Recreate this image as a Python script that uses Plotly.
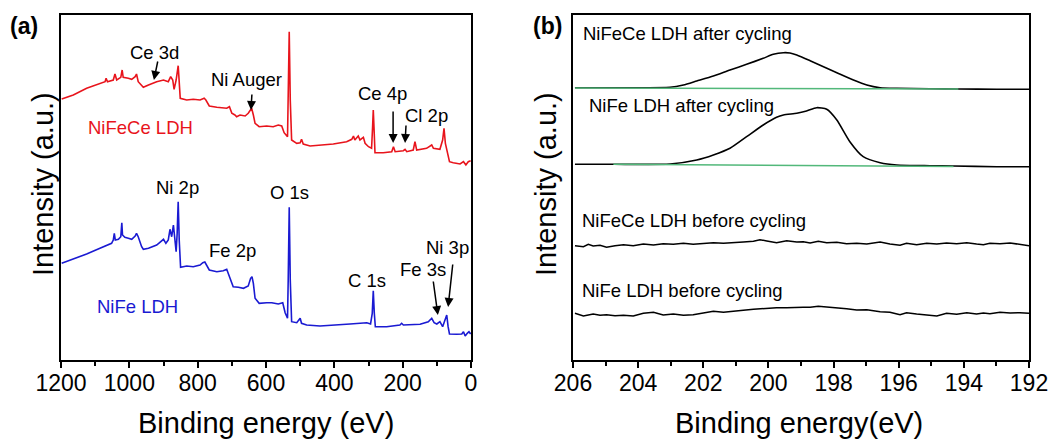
import plotly.graph_objects as go

FONT = "Liberation Sans, Arial, sans-serif"

# ---------------- Panel (a): survey spectra ----------------
e_nifece = [1198, 1164, 1125, 1086, 1071, 1068, 1064, 1047, 1042, 1037, 1025, 1021, 1018, 1003, 993, 983, 979, 974, 969, 959,
            944, 930, 920, 900, 886, 879, 873, 869, 863, 857, 854, 851, 832, 813, 793, 781, 776, 766, 744, 715,
            707, 700, 691, 686, 676, 661, 652, 642, 637, 632, 620, 598, 579, 564, 554, 547, 537, 535, 532, 529,
            525, 510, 500, 496, 491, 471, 442, 403, 364, 349, 344, 340, 330, 325, 315, 310, 300, 291, 288, 286,
            284, 281, 257, 232, 227, 222, 198, 193, 188, 169, 164, 159, 130, 115, 110, 91, 83, 79, 75, 71,
            63, 52, 32, 22, 15, 8, 1]
i_nifece = [261, 265, 271.7, 276.7, 278.3, 281.7, 278.3, 280, 286, 280, 282.7, 290, 282.7, 281.7, 280.7, 283.3, 286, 278.3, 276.7, 272.7,
            275, 277.3, 278.3, 280, 278.3, 283.3, 280, 270.7, 280, 294.3, 276.7, 261.7, 260, 260.7, 260, 261.7, 260, 254, 252.7, 251.7,
            253.3, 246.7, 245, 243.3, 245, 244, 246.7, 251.7, 245, 236.7, 233.3, 234, 233.3, 235, 234, 227.3, 223.3, 260, 328.3, 260,
            220, 216.7, 217.3, 220.7, 216, 214, 215, 216, 218.3, 220.7, 224, 220, 224, 220, 222.7, 216.7, 213.3, 211.7, 233.3, 250,
            233.3, 207.3, 207.3, 208.3, 213.3, 208.3, 209.3, 210.7, 208.3, 210, 218.3, 210, 211.7, 215, 211.7, 210.7, 220, 231.7, 216.7, 210,
            198.3, 197.3, 196, 198.3, 195, 198.3, 199.3]

e_nife = [1198, 1164, 1125, 1086, 1052, 1047, 1044, 1041, 1032, 1025, 1022, 1020, 1013, 1003, 993, 983, 979, 974, 964, 959,
          944, 920, 900, 893, 886, 881, 876, 871, 867, 863, 860, 857, 854, 850, 832, 813, 793, 785, 779, 774,
          766, 744, 725, 715, 707, 696, 681, 666, 652, 645, 641, 637, 632, 620, 598, 583, 564, 551, 544, 537,
          535, 532, 529, 525, 510, 500, 496, 481, 442, 403, 354, 305, 294, 289, 286, 283, 280, 247, 208, 203,
          198, 149, 139, 125, 115, 108, 100, 91, 83, 75, 71, 67, 63, 42, 27, 22, 17, 11, 6, 1]
i_nife = [96.7, 100.7, 106, 111.7, 116.7, 120, 126.7, 120, 120.7, 123.3, 137.3, 125, 122.7, 121.7, 120.7, 124, 126.7, 123.3, 113.3, 110.7,
          111.7, 115, 120.7, 116.7, 120, 130.7, 123.3, 135, 120, 108.3, 126.7, 158.3, 120, 92.7, 94, 93.3, 95, 97.3, 98, 95,
          90, 88.3, 89.3, 90.7, 83.3, 73.3, 72.7, 71.7, 74, 81.7, 83.3, 76.7, 61.7, 56.7, 57.3, 57.3, 56, 57.3, 47.3, 41.7,
          80, 152.7, 80, 38.3, 37.3, 41.7, 36.7, 35, 34, 34.7, 36, 37.3, 36, 46.7, 69.3, 46.7, 33.3, 33.3, 35, 36.7,
          35, 35.7, 36.7, 38.3, 41.7, 37.3, 36, 38.3, 33.3, 40, 45, 33.3, 26, 25.7, 26, 28.3, 24, 26.7, 28.3, 26]

# ---------------- Panel (b): Ce 4d region ----------------
e_after = [205.94, 204.76, 203.02, 202.61, 202.2, 201.69, 201.18, 200.67, 200.16, 199.85, 199.54, 199.34, 199.13, 198.72,
           198.31, 197.9, 197.39, 196.98, 196.57, 196.06, 195.04, 194.17, 192.99, 192.0]
i_nifece_after = [272.3, 272.3, 272.7, 275, 279, 284, 290, 295.7, 301.7, 305.7, 307.3, 307, 305, 299.3,
                  293.3, 287.3, 280, 275, 272.3, 271.7, 271.3, 271, 270.7, 270.7]
e_nife_after = [205.94, 204.76, 203.02, 202.2, 201.69, 201.18, 200.67, 200.16, 199.75, 199.54, 199.13, 198.83, 198.52,
                198.21, 197.9, 197.5, 197.09, 196.57, 196.06, 195.04, 194.32, 192.99, 192.0]
i_nife_after = [195.7, 195.7, 196, 200, 205, 211.7, 223.3, 235, 242.7, 245, 246.7, 249, 252.3,
                250.7, 240, 218.3, 203.3, 197.3, 195, 194.3, 194, 193.3, 193.3]
e_bg_nifece = [205.94, 194.17]
i_bg_nifece = [272.0, 271.0]
e_bg_nife = [204.76, 194.32]
i_bg_nife = [195.7, 193.5]

e_before = [205.94, 205.68, 205.53, 205.38, 205.17, 204.97, 204.71, 204.45, 204.15, 203.84, 203.53, 203.23, 202.92, 202.61,
            202.31, 202.0, 201.69, 201.38, 201.08, 200.77, 200.46, 200.26, 200.05, 199.75, 199.44, 199.13, 198.93, 198.72,
            198.47, 198.21, 197.9, 197.6, 197.29, 196.98, 196.57, 196.27, 195.96, 195.76, 195.45, 195.14, 194.83, 194.53,
            194.22, 193.91, 193.61, 193.4, 193.2, 192.89, 192.58, 192.28, 192.0]
i_nifece_before = [114.3, 113.3, 115.7, 114, 114.7, 112.7, 114.3, 115.3, 114.3, 116, 115, 116.3, 115.7, 116.7,
                   115.7, 116.7, 117.3, 116.7, 117.7, 118, 118.7, 120.3, 119, 117.3, 119.3, 118, 118.3, 117,
                   118.7, 117.3, 117.7, 116.3, 116.7, 116, 118, 116, 114.7, 116.7, 115.3, 116.7, 116, 117,
                   116.3, 117.3, 116, 115.3, 116.7, 116.3, 117, 115.3, 114.3]
i_nife_before = [46.7, 44, 45, 46, 44.7, 45.3, 44.3, 44.7, 44, 46.7, 47.7, 45, 46, 44.7,
                 45.3, 47, 48.7, 47.7, 49, 49.7, 50.7, 51.3, 51.7, 52.3, 52.3, 53, 52.7, 52.7,
                 53.7, 53, 52.3, 51.3, 50, 50.3, 48.3, 47.7, 45.3, 47.3, 46, 45, 44, 46.7,
                 45.7, 47.3, 46, 47, 46.3, 47.7, 47, 47.3, 46.7]

RED = "#e8141c"
BLUE = "#1a1ad2"
GREEN = "#52b87a"

fig = go.Figure()
fig.add_trace(go.Scatter(x=e_nifece, y=i_nifece, mode="lines", line=dict(color=RED, width=1.6), xaxis="x", yaxis="y"))
fig.add_trace(go.Scatter(x=e_nife, y=i_nife, mode="lines", line=dict(color=BLUE, width=1.6), xaxis="x", yaxis="y"))

fig.add_trace(go.Scatter(x=e_after, y=i_nifece_after, mode="lines", line=dict(color="black", width=1.6, shape="spline", smoothing=0.6), xaxis="x2", yaxis="y2"))
fig.add_trace(go.Scatter(x=e_bg_nifece, y=i_bg_nifece, mode="lines", line=dict(color=GREEN, width=1.6), xaxis="x2", yaxis="y2"))
fig.add_trace(go.Scatter(x=e_nife_after, y=i_nife_after, mode="lines", line=dict(color="black", width=1.6, shape="spline", smoothing=0.6), xaxis="x2", yaxis="y2"))
fig.add_trace(go.Scatter(x=e_bg_nife, y=i_bg_nife, mode="lines", line=dict(color=GREEN, width=1.6), xaxis="x2", yaxis="y2"))
fig.add_trace(go.Scatter(x=e_before, y=i_nifece_before, mode="lines", line=dict(color="black", width=1.5), xaxis="x2", yaxis="y2"))
fig.add_trace(go.Scatter(x=e_before, y=i_nife_before, mode="lines", line=dict(color="black", width=1.5), xaxis="x2", yaxis="y2"))

W, H = 1062, 441
ydom = [1 - 360 / H, 1 - 15 / H]
axis_common = dict(showline=True, linecolor="black", linewidth=2, mirror=True, showgrid=False, zeroline=False,
                   ticks="outside", ticklen=6, tickwidth=1.5, tickcolor="black", automargin=False,
                   ticklabelstandoff=-5,
                   tickfont=dict(family=FONT, size=23, color="black"))
yaxis_common = dict(domain=ydom, range=[0, 345], showticklabels=False, showline=True, linecolor="black", linewidth=2,
                    mirror=True, showgrid=False, zeroline=False, ticks="", automargin=False)
fig.update_layout(
    template="none",
    width=W, height=H, margin=dict(l=0, r=0, t=0, b=0, pad=0), autosize=False,
    paper_bgcolor="white", plot_bgcolor="white", showlegend=False,
    font=dict(family=FONT, color="black"),
    xaxis=dict(domain=[61 / W, 471 / W], range=[1200, 0], dtick=200, anchor="y",
               minor=dict(dtick=100, ticks="outside", ticklen=4, tickwidth=1.5, tickcolor="black"), **axis_common),
    yaxis=dict(anchor="x", **yaxis_common),
    xaxis2=dict(domain=[573 / W, 1029 / W], range=[206, 192], dtick=2, anchor="y2",
                minor=dict(dtick=1, ticks="outside", ticklen=4, tickwidth=1.5, tickcolor="black"), **axis_common),
    yaxis2=dict(anchor="x2", **yaxis_common),
)

ann = []
def txt(x, y, s, size=18.5, color="black", xref="x", yref="y", xanchor="center"):
    ann.append(dict(x=x, y=y, xref=xref, yref=yref, text=s, showarrow=False, xanchor=xanchor, yanchor="middle",
                    font=dict(family=FONT, size=size, color=color)))

def arrow(x0, y0, x1, y1, xref="x", yref="y"):
    ann.append(dict(x=x1, y=y1, ax=x0, ay=y0, xref=xref, yref=yref, axref=xref, ayref=yref, text="",
                    showarrow=True, arrowhead=2, arrowsize=1.2, arrowwidth=1.5, arrowcolor="black"))

# Panel (a) labels
txt(925, 308, "Ce 3d"); arrow(916, 300, 928, 280)
txt(656, 281, "Ni Auger"); arrow(641, 267, 644, 250)
txt(966, 233, "NiFeCe LDH", color=RED)
txt(258, 267, "Ce 4p"); arrow(228, 250, 228, 217)
txt(129, 245, "Cl 2p"); arrow(190, 236, 193, 217)
txt(860, 173, "Ni 2p")
txt(530, 168, "O 1s")
txt(697, 110, "Fe 2p")
txt(975, 54, "NiFe LDH", color=BLUE)
txt(304, 80, "C 1s")
txt(140, 91, "Fe 3s"); arrow(111, 80, 97, 45)
txt(70, 113, "Ni 3p"); arrow(53, 97, 67, 53)

# Panel (b) labels
txt(205.75, 327, "NiFeCe LDH after cycling", xref="x2", yref="y2", xanchor="left")
txt(205.57, 255, "NiFe LDH after cycling", xref="x2", yref="y2", xanchor="left")
txt(205.8, 140, "NiFeCe LDH before cycling", xref="x2", yref="y2", xanchor="left")
txt(205.8, 70, "NiFe LDH before cycling", xref="x2", yref="y2", xanchor="left")

# Axis titles and panel letters
txt(266 / W, 1 - 423 / H, "Binding energy (eV)", size=29, xref="paper", yref="paper")
txt(799 / W, 1 - 423 / H, "Binding energy(eV)", size=29, xref="paper", yref="paper")
ann.append(dict(x=25 / W, y=1 - 184 / H, xref="paper", yref="paper", text="Intensity (a.u.)", textangle=-90,
                showarrow=False, font=dict(family=FONT, size=29, color="black")))
ann.append(dict(x=546 / W, y=1 - 184 / H, xref="paper", yref="paper", text="Intensity (a.u.)", textangle=-90,
                showarrow=False, font=dict(family=FONT, size=29, color="black")))
txt(24 / W, 1 - 26 / H, "<b>(a)</b>", size=23, xref="paper", yref="paper")
txt(547 / W, 1 - 26 / H, "<b>(b)</b>", size=23, xref="paper", yref="paper")

fig.update_layout(annotations=ann)
fig.write_html("out.html", config={"responsive": False, "displayModeBar": False},
               post_script="document.body.style.margin='0';document.body.style.overflow='hidden';")
